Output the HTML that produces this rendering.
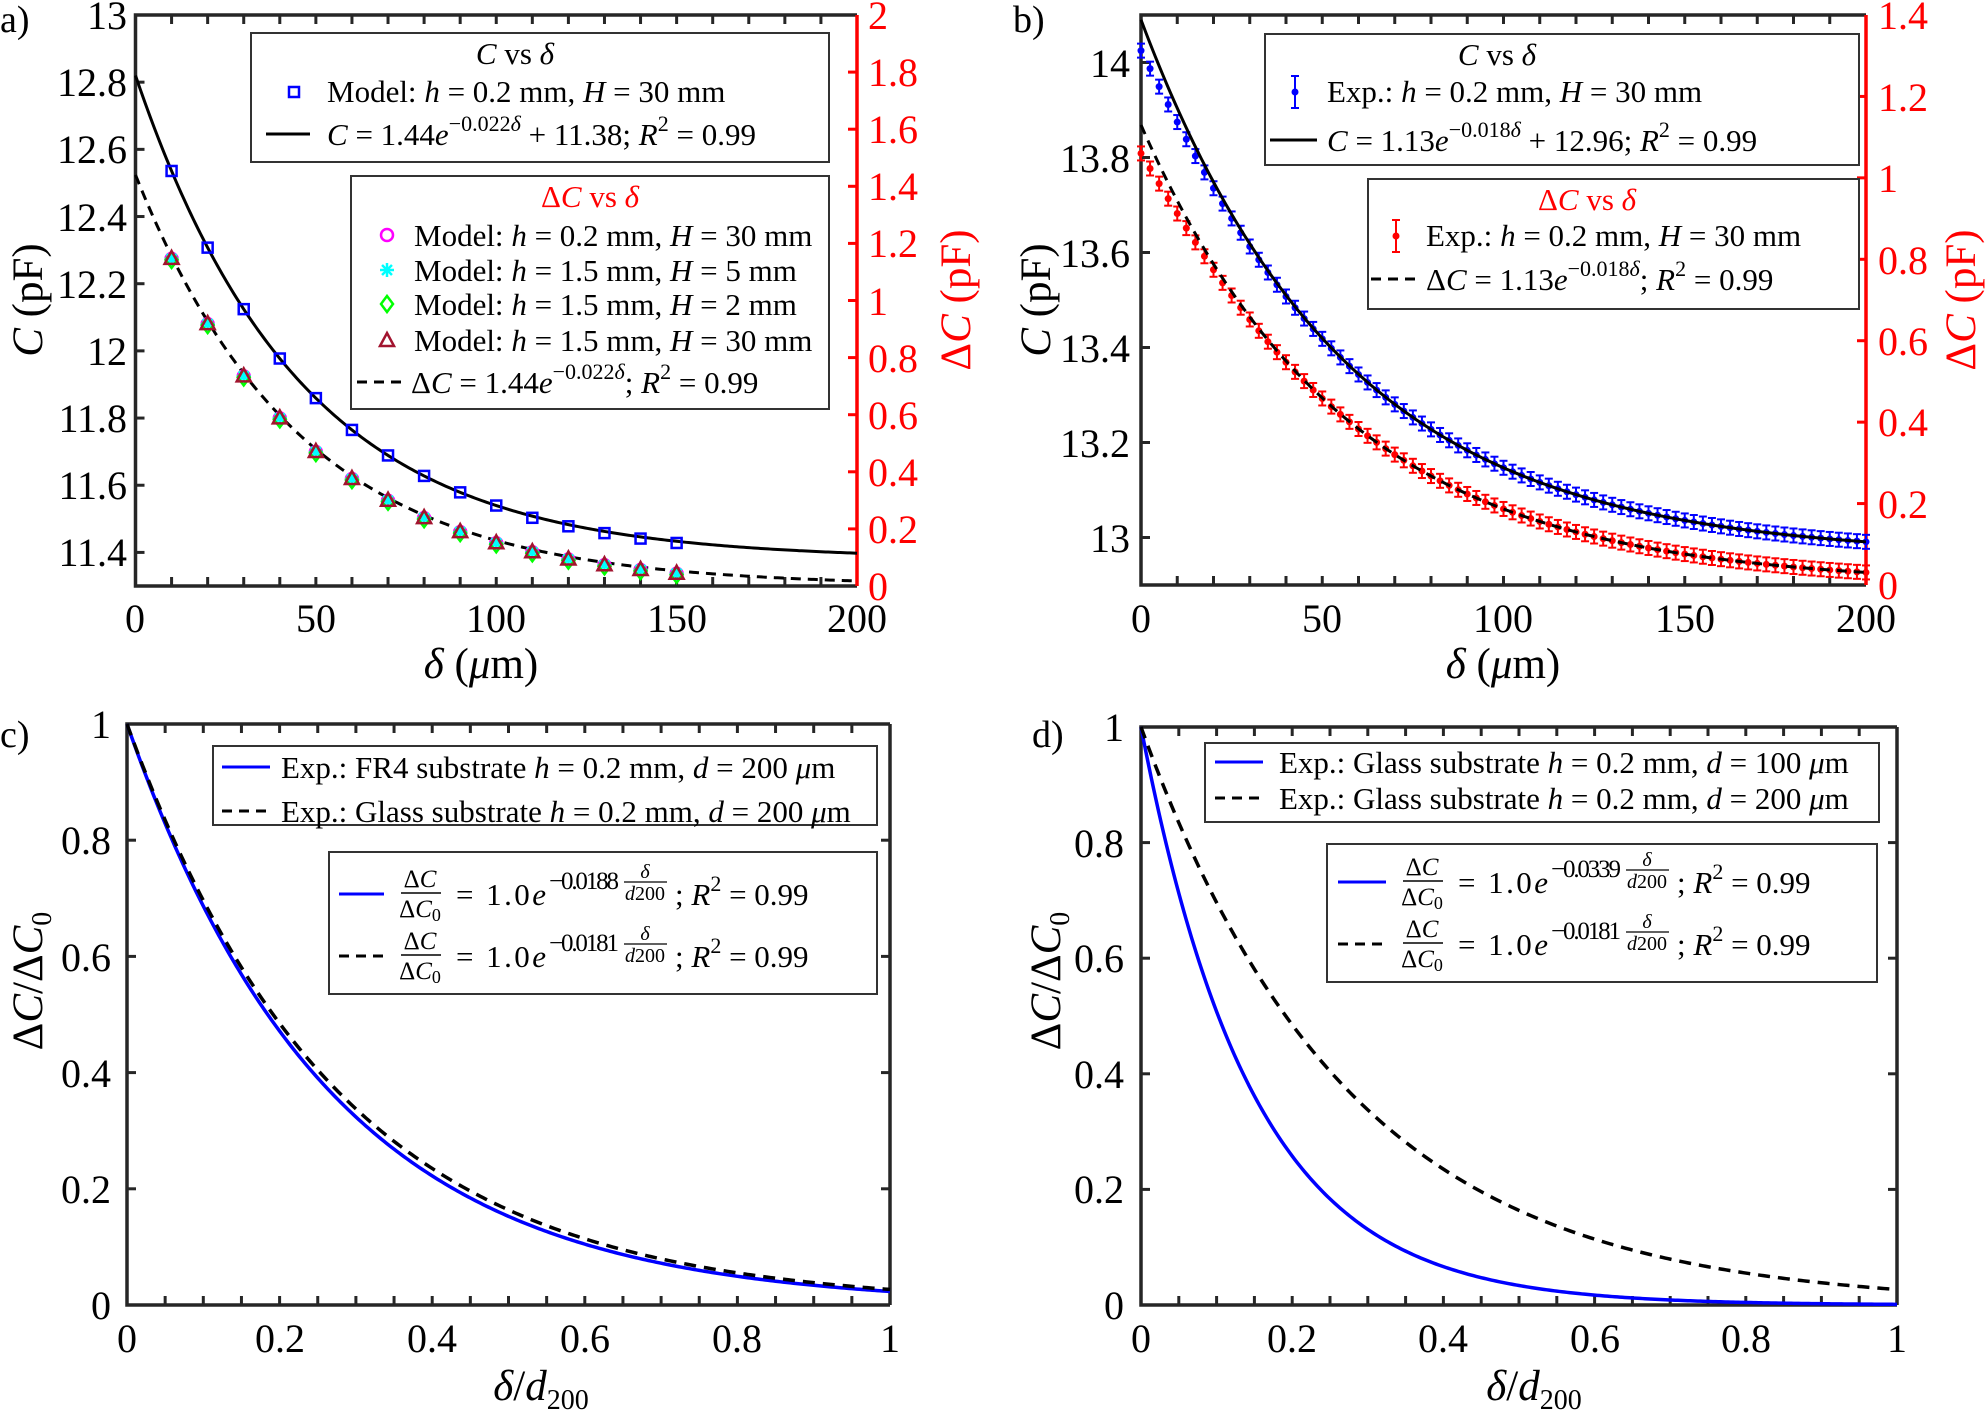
<!DOCTYPE html>
<html><head><meta charset="utf-8"><style>
html,body{margin:0;padding:0;background:#fff;}
svg{display:block;font-family:"Liberation Serif",serif;}
.t{font-size:40px;fill:#000;}
.r{fill:#f00;}
.lg{font-size:31px;}
.al{font-size:43px;}
</style></head><body>
<svg id="s" width="1985" height="1414" viewBox="0 0 1985 1414" xmlns="http://www.w3.org/2000/svg">
<rect width="1985" height="1414" fill="#fff"/>
<g id="g"></g>
<text x="0" y="32" font-size="38">a)</text>
<text x="1013" y="32" font-size="38">b)</text>
<text x="0" y="747" font-size="38">c)</text>
<text x="1032" y="747" font-size="38">d)</text>

<!-- Panel a ticks -->
<g class="t" text-anchor="end" transform="translate(0,3)">
<text x="127" y="563">11.4</text><text x="127" y="496">11.6</text><text x="127" y="429">11.8</text>
<text x="127" y="362">12</text><text x="127" y="295">12.2</text><text x="127" y="228">12.4</text>
<text x="127" y="160">12.6</text><text x="127" y="93">12.8</text><text x="127" y="26">13</text>
</g>
<g class="t r" transform="translate(0,3)">
<text x="868" y="597">0</text><text x="868" y="540">0.2</text><text x="868" y="483">0.4</text>
<text x="868" y="426">0.6</text><text x="868" y="369">0.8</text><text x="868" y="312">1</text>
<text x="868" y="254">1.2</text><text x="868" y="197">1.4</text><text x="868" y="140">1.6</text>
<text x="868" y="83">1.8</text><text x="868" y="26">2</text>
</g>
<g class="t" text-anchor="middle">
<text x="135" y="632">0</text><text x="316" y="632">50</text><text x="496" y="632">100</text>
<text x="677" y="632">150</text><text x="857" y="632">200</text>
</g>
<text class="al" text-anchor="middle" transform="rotate(-90 42 300)" x="42" y="300"><tspan font-style="italic">C</tspan> (pF)</text>
<text class="al r" text-anchor="middle" transform="rotate(-90 970 300)" x="970" y="300">Δ<tspan font-style="italic">C</tspan> (pF)</text>
<text class="al" text-anchor="middle" x="481" y="678"><tspan font-style="italic">δ</tspan> (<tspan font-style="italic">μ</tspan>m)</text>

<!-- Panel b ticks -->
<g class="t" text-anchor="end" transform="translate(0,3)">
<text x="1130" y="549">13</text><text x="1130" y="454">13.2</text><text x="1130" y="359">13.4</text>
<text x="1130" y="264">13.6</text><text x="1130" y="169">13.8</text><text x="1130" y="74">14</text>
</g>
<g class="t r" transform="translate(0,3)">
<text x="1878" y="596">0</text><text x="1878" y="515">0.2</text><text x="1878" y="433">0.4</text>
<text x="1878" y="352">0.6</text><text x="1878" y="271">0.8</text><text x="1878" y="189">1</text>
<text x="1878" y="108">1.2</text><text x="1878" y="26">1.4</text>
</g>
<g class="t" text-anchor="middle">
<text x="1141" y="632">0</text><text x="1322" y="632">50</text><text x="1503" y="632">100</text>
<text x="1685" y="632">150</text><text x="1866" y="632">200</text>
</g>
<text class="al" text-anchor="middle" transform="rotate(-90 1050 300)" x="1050" y="300"><tspan font-style="italic">C</tspan> (pF)</text>
<text class="al r" text-anchor="middle" transform="rotate(-90 1975 300)" x="1975" y="300">Δ<tspan font-style="italic">C</tspan> (pF)</text>
<text class="al" text-anchor="middle" x="1503" y="678"><tspan font-style="italic">δ</tspan> (<tspan font-style="italic">μ</tspan>m)</text>

<!-- Panel c ticks -->
<g class="t" text-anchor="end" transform="translate(0,3)">
<text x="111" y="1316">0</text><text x="111" y="1200">0.2</text><text x="111" y="1084">0.4</text>
<text x="111" y="968">0.6</text><text x="111" y="851">0.8</text><text x="111" y="735">1</text>
</g>
<g class="t" text-anchor="middle">
<text x="127" y="1352">0</text><text x="280" y="1352">0.2</text><text x="432" y="1352">0.4</text>
<text x="585" y="1352">0.6</text><text x="737" y="1352">0.8</text><text x="890" y="1352">1</text>
</g>
<text class="al" text-anchor="middle" transform="rotate(-90 42 981)" x="42" y="981">Δ<tspan font-style="italic">C</tspan>/Δ<tspan font-style="italic">C</tspan><tspan font-size="28" dy="9">0</tspan></text>
<text class="al" text-anchor="middle" x="541" y="1400"><tspan font-style="italic">δ</tspan>/<tspan font-style="italic">d</tspan><tspan font-size="28" dy="9">200</tspan></text>

<!-- Panel d ticks -->
<g class="t" text-anchor="end" transform="translate(0,3)">
<text x="1124" y="1316">0</text><text x="1124" y="1200">0.2</text><text x="1124" y="1085">0.4</text>
<text x="1124" y="969">0.6</text><text x="1124" y="854">0.8</text><text x="1124" y="738">1</text>
</g>
<g class="t" text-anchor="middle">
<text x="1141" y="1352">0</text><text x="1292" y="1352">0.2</text><text x="1443" y="1352">0.4</text>
<text x="1595" y="1352">0.6</text><text x="1746" y="1352">0.8</text><text x="1897" y="1352">1</text>
</g>
<text class="al" text-anchor="middle" transform="rotate(-90 1060 981)" x="1060" y="981">Δ<tspan font-style="italic">C</tspan>/Δ<tspan font-style="italic">C</tspan><tspan font-size="28" dy="9">0</tspan></text>
<text class="al" text-anchor="middle" x="1534" y="1400"><tspan font-style="italic">δ</tspan>/<tspan font-style="italic">d</tspan><tspan font-size="28" dy="9">200</tspan></text>

<!-- Legends panel a -->
<rect x="251" y="33" width="578" height="129" fill="#fff" stroke="#333" stroke-width="2"/>
<text class="lg" x="515" y="64" text-anchor="middle"><tspan font-style="italic">C</tspan> vs <tspan font-style="italic">δ</tspan></text>
<text class="lg" x="327" y="102">Model: <tspan font-style="italic">h</tspan> = 0.2 mm, <tspan font-style="italic">H</tspan> = 30 mm</text>
<line x1="266" y1="134" x2="310" y2="134" stroke="#000" stroke-width="3"/>
<text class="lg" x="327" y="145"><tspan font-style="italic">C</tspan> = 1.44<tspan font-style="italic">e</tspan><tspan font-size="22" dy="-14">−0.022<tspan font-style="italic">δ</tspan></tspan><tspan dy="14"> + 11.38; </tspan><tspan font-style="italic">R</tspan><tspan font-size="22" dy="-14">2</tspan><tspan dy="14"> = 0.99</tspan></text>

<rect x="351" y="176" width="478" height="233" fill="#fff" stroke="#333" stroke-width="2"/>
<text class="lg r" x="590" y="207" text-anchor="middle">Δ<tspan font-style="italic">C</tspan> vs <tspan font-style="italic">δ</tspan></text>
<g class="lg">
<text x="414" y="246">Model: <tspan font-style="italic">h</tspan> = 0.2 mm, <tspan font-style="italic">H</tspan> = 30 mm</text>
<text x="414" y="281">Model: <tspan font-style="italic">h</tspan> = 1.5 mm, <tspan font-style="italic">H</tspan> = 5 mm</text>
<text x="414" y="315">Model: <tspan font-style="italic">h</tspan> = 1.5 mm, <tspan font-style="italic">H</tspan> = 2 mm</text>
<text x="414" y="351">Model: <tspan font-style="italic">h</tspan> = 1.5 mm, <tspan font-style="italic">H</tspan> = 30 mm</text>
<text x="411" y="393">Δ<tspan font-style="italic">C</tspan> = 1.44<tspan font-style="italic">e</tspan><tspan font-size="22" dy="-14">−0.022<tspan font-style="italic">δ</tspan></tspan><tspan dy="14">; </tspan><tspan font-style="italic">R</tspan><tspan font-size="22" dy="-14">2</tspan><tspan dy="14"> = 0.99</tspan></text>
</g>
<line x1="357" y1="382" x2="405" y2="382" stroke="#000" stroke-width="3" stroke-dasharray="10,7"/>
<g id="lgA"></g>

<!-- Legends panel b -->
<rect x="1265" y="34" width="594" height="131" fill="#fff" stroke="#333" stroke-width="2"/>
<text class="lg" x="1497" y="65" text-anchor="middle"><tspan font-style="italic">C</tspan> vs <tspan font-style="italic">δ</tspan></text>
<text class="lg" x="1327" y="102">Exp.: <tspan font-style="italic">h</tspan> = 0.2 mm, <tspan font-style="italic">H</tspan> = 30 mm</text>
<line x1="1270" y1="140" x2="1317" y2="140" stroke="#000" stroke-width="3"/>
<text class="lg" x="1327" y="151"><tspan font-style="italic">C</tspan> = 1.13<tspan font-style="italic">e</tspan><tspan font-size="22" dy="-14">−0.018<tspan font-style="italic">δ</tspan></tspan><tspan dy="14"> + 12.96; </tspan><tspan font-style="italic">R</tspan><tspan font-size="22" dy="-14">2</tspan><tspan dy="14"> = 0.99</tspan></text>
<rect x="1368" y="179" width="491" height="130" fill="#fff" stroke="#333" stroke-width="2"/>
<text class="lg r" x="1587" y="210" text-anchor="middle">Δ<tspan font-style="italic">C</tspan> vs <tspan font-style="italic">δ</tspan></text>
<text class="lg" x="1426" y="246">Exp.: <tspan font-style="italic">h</tspan> = 0.2 mm, <tspan font-style="italic">H</tspan> = 30 mm</text>
<line x1="1371" y1="279" x2="1418" y2="279" stroke="#000" stroke-width="3" stroke-dasharray="10,7"/>
<text class="lg" x="1426" y="290">Δ<tspan font-style="italic">C</tspan> = 1.13<tspan font-style="italic">e</tspan><tspan font-size="22" dy="-14">−0.018<tspan font-style="italic">δ</tspan></tspan><tspan dy="14">; </tspan><tspan font-style="italic">R</tspan><tspan font-size="22" dy="-14">2</tspan><tspan dy="14"> = 0.99</tspan></text>
<g id="lgB"></g>

<!-- Legends panel c -->
<rect x="213" y="746" width="664" height="79" fill="#fff" stroke="#333" stroke-width="2"/>
<line x1="222" y1="767" x2="270" y2="767" stroke="#00f" stroke-width="3"/>
<text class="lg" x="281" y="778">Exp.: FR4 substrate <tspan font-style="italic">h</tspan> = 0.2 mm, <tspan font-style="italic">d</tspan> = 200 <tspan font-style="italic">μ</tspan>m</text>
<line x1="222" y1="811" x2="270" y2="811" stroke="#000" stroke-width="3" stroke-dasharray="10,7"/>
<text class="lg" x="281" y="822">Exp.: Glass substrate <tspan font-style="italic">h</tspan> = 0.2 mm, <tspan font-style="italic">d</tspan> = 200 <tspan font-style="italic">μ</tspan>m</text>
<rect x="329" y="852" width="548" height="142" fill="#fff" stroke="#333" stroke-width="2"/>
<line x1="339" y1="894" x2="384" y2="894" stroke="#00f" stroke-width="3"/>
<line x1="339" y1="956" x2="384" y2="956" stroke="#000" stroke-width="3" stroke-dasharray="10,7"/>

<!-- Legends panel d -->
<rect x="1205" y="743" width="674" height="79" fill="#fff" stroke="#333" stroke-width="2"/>
<line x1="1215" y1="762" x2="1263" y2="762" stroke="#00f" stroke-width="3"/>
<text class="lg" x="1279" y="773">Exp.: Glass substrate <tspan font-style="italic">h</tspan> = 0.2 mm, <tspan font-style="italic">d</tspan> = 100 <tspan font-style="italic">μ</tspan>m</text>
<line x1="1215" y1="798" x2="1263" y2="798" stroke="#000" stroke-width="3" stroke-dasharray="10,7"/>
<text class="lg" x="1279" y="809">Exp.: Glass substrate <tspan font-style="italic">h</tspan> = 0.2 mm, <tspan font-style="italic">d</tspan> = 200 <tspan font-style="italic">μ</tspan>m</text>
<rect x="1327" y="844" width="550" height="138" fill="#fff" stroke="#333" stroke-width="2"/>
<line x1="1338" y1="882" x2="1386" y2="882" stroke="#00f" stroke-width="3"/>
<line x1="1338" y1="944" x2="1386" y2="944" stroke="#000" stroke-width="3" stroke-dasharray="10,7"/>

<!-- fraction formulas c -->
<g class="lg">
<g font-size="25">
<text x="420" y="887" text-anchor="middle">Δ<tspan font-style="italic">C</tspan></text>
<text x="420" y="917" text-anchor="middle">Δ<tspan font-style="italic">C</tspan><tspan font-size="18" dy="4">0</tspan></text>
<text x="420" y="949" text-anchor="middle">Δ<tspan font-style="italic">C</tspan></text>
<text x="420" y="979" text-anchor="middle">Δ<tspan font-style="italic">C</tspan><tspan font-size="18" dy="4">0</tspan></text>
</g>
<line x1="401" y1="893" x2="441" y2="893" stroke="#000" stroke-width="1.5"/>
<line x1="401" y1="955" x2="441" y2="955" stroke="#000" stroke-width="1.5"/>
<text x="456" y="905" textLength="90">= 1.0<tspan font-style="italic">e</tspan></text>
<text x="456" y="967" textLength="90">= 1.0<tspan font-style="italic">e</tspan></text>
<text x="549" y="889" font-size="25" textLength="70">−0.0188</text>
<text x="549" y="951" font-size="25" textLength="70">−0.0181</text>
<g font-size="20" text-anchor="middle">
<text x="645" y="878" font-style="italic">δ</text><text x="645" y="900"><tspan font-style="italic">d</tspan>200</text>
<text x="645" y="940" font-style="italic">δ</text><text x="645" y="962"><tspan font-style="italic">d</tspan>200</text>
</g>
<line x1="624" y1="882" x2="667" y2="882" stroke="#000" stroke-width="1.2"/>
<line x1="624" y1="944" x2="667" y2="944" stroke="#000" stroke-width="1.2"/>
<text x="675" y="905">; <tspan font-style="italic">R</tspan><tspan font-size="22" dy="-14">2</tspan><tspan dy="14"> = 0.99</tspan></text>
<text x="675" y="967">; <tspan font-style="italic">R</tspan><tspan font-size="22" dy="-14">2</tspan><tspan dy="14"> = 0.99</tspan></text>
</g>
<!-- fraction formulas d -->
<g class="lg" transform="translate(1002,-12)">
<g font-size="25">
<text x="420" y="887" text-anchor="middle">Δ<tspan font-style="italic">C</tspan></text>
<text x="420" y="917" text-anchor="middle">Δ<tspan font-style="italic">C</tspan><tspan font-size="18" dy="4">0</tspan></text>
<text x="420" y="949" text-anchor="middle">Δ<tspan font-style="italic">C</tspan></text>
<text x="420" y="979" text-anchor="middle">Δ<tspan font-style="italic">C</tspan><tspan font-size="18" dy="4">0</tspan></text>
</g>
<line x1="401" y1="893" x2="441" y2="893" stroke="#000" stroke-width="1.5"/>
<line x1="401" y1="955" x2="441" y2="955" stroke="#000" stroke-width="1.5"/>
<text x="456" y="905" textLength="90">= 1.0<tspan font-style="italic">e</tspan></text>
<text x="456" y="967" textLength="90">= 1.0<tspan font-style="italic">e</tspan></text>
<text x="549" y="889" font-size="25" textLength="70">−0.0339</text>
<text x="549" y="951" font-size="25" textLength="70">−0.0181</text>
<g font-size="20" text-anchor="middle">
<text x="645" y="878" font-style="italic">δ</text><text x="645" y="900"><tspan font-style="italic">d</tspan>200</text>
<text x="645" y="940" font-style="italic">δ</text><text x="645" y="962"><tspan font-style="italic">d</tspan>200</text>
</g>
<line x1="624" y1="882" x2="667" y2="882" stroke="#000" stroke-width="1.2"/>
<line x1="624" y1="944" x2="667" y2="944" stroke="#000" stroke-width="1.2"/>
<text x="675" y="905">; <tspan font-style="italic">R</tspan><tspan font-size="22" dy="-14">2</tspan><tspan dy="14"> = 0.99</tspan></text>
<text x="675" y="967">; <tspan font-style="italic">R</tspan><tspan font-size="22" dy="-14">2</tspan><tspan dy="14"> = 0.99</tspan></text>
</g>
</svg>
<script>
(function(){
var NS="http://www.w3.org/2000/svg";
var G=document.getElementById('g');
function el(t,a,p){var e=document.createElementNS(NS,t);for(var k in a)e.setAttribute(k,a[k]);(p||G).appendChild(e);return e;}
function curve(f,x0,x1,X,Y,st,w,dash,p){var d="";for(var i=0;i<=300;i++){var x=x0+(x1-x0)*i/300;d+=(i?"L":"M")+X(x).toFixed(2)+","+Y(f(x)).toFixed(2);}
 var a={d:d,fill:"none",stroke:st,"stroke-width":w};if(dash)a["stroke-dasharray"]=dash;el("path",a,p);}
function frame(L,T,R,B,xt,yl,yr,rc){
 var ax="#262626";
 xt.forEach(function(x){el("line",{x1:x,y1:B,x2:x,y2:B-9,stroke:ax,"stroke-width":3});el("line",{x1:x,y1:T,x2:x,y2:T+9,stroke:ax,"stroke-width":3});});
 yl.forEach(function(y){el("line",{x1:L,y1:y,x2:L+9,y2:y,stroke:ax,"stroke-width":3});});
 yr.forEach(function(y){el("line",{x1:R,y1:y,x2:R-9,y2:y,stroke:rc||ax,"stroke-width":3});});
 el("path",{d:"M"+R+","+T+"L"+L+","+T+"L"+L+","+B+"L"+R+","+B,fill:"none",stroke:ax,"stroke-width":3.5});
 el("line",{x1:R,y1:T,x2:R,y2:B,stroke:rc||ax,"stroke-width":3.5});
}
function rng(a,b,s){var r=[];for(var v=a;v<=b+1e-9;v+=s)r.push(v);return r;}
var ax_=function(x){return 135.5+x/200*721.5;},ayC=function(c){return 586-(c-11.3)/1.7*571;},ayD=function(d){return 586-d/2*571;};
frame(135.5,15,857,586,rng(0,200,10).map(ax_),rng(11.4,13,0.2).map(ayC),rng(0,2,0.2).map(ayD),"#f00");
curve(function(x){return 1.44*Math.exp(-0.022*x)+11.38;},0,200,ax_,ayC,"#000",3);
curve(function(x){return 1.44*Math.exp(-0.022*x);},0,200,ax_,ayD,"#000",3,"10,7");
function sq(x,y,p){el("rect",{x:x-5,y:y-5,width:10,height:10,fill:"none",stroke:"#00f","stroke-width":2.5},p);}
function circ(x,y,p){el("circle",{cx:x,cy:y,r:6,fill:"none",stroke:"#f0f","stroke-width":2.5},p);}
function star(x,y,p){for(var k=0;k<4;k++){var a=k*Math.PI/4;el("line",{x1:x-7*Math.cos(a),y1:y-7*Math.sin(a),x2:x+7*Math.cos(a),y2:y+7*Math.sin(a),stroke:"#0ff","stroke-width":2.5},p);}}
function dia(x,y,p){el("path",{d:"M"+x+","+(y-8)+"L"+(x+6)+","+y+"L"+x+","+(y+8)+"L"+(x-6)+","+y+"Z",fill:"none",stroke:"#0f0","stroke-width":2.5},p);}
function tri(x,y,p){el("path",{d:"M"+x+","+(y-8)+"L"+(x+7)+","+(y+5)+"L"+(x-7)+","+(y+5)+"Z",fill:"none",stroke:"#a2142f","stroke-width":2.5},p);}
for(var d=10;d<=150;d+=10){
 var c=1.44*Math.exp(-0.022*d)+11.38+(d>100?-0.005:0);
 sq(ax_(d),ayC(c));
 var dc=1.44*Math.exp(-0.022*d)-0.01;var X=ax_(d),Y=ayD(dc);
 circ(X,Y);star(X,Y);dia(X,Y+1);tri(X,Y);
}
var LA=document.getElementById('lgA');
sq(294,92,LA);circ(387,235,LA);star(387,270,LA);dia(387,304,LA);tri(387,341,LA);
var bx=function(x){return 1141+x/200*725;},byC=function(c){return 585-(c-12.9)/1.2*570;},byD=function(d){return 585-d/1.4*570;};
frame(1141,15,1866,585,rng(0,200,10).map(bx),rng(13,14,0.2).map(byC),rng(0,1.4,0.2).map(byD),"#f00");
function eb(x,y,col,h,p){el("line",{x1:x,y1:y-h,x2:x,y2:y+h,stroke:col,"stroke-width":2},p);el("line",{x1:x-4,y1:y-h,x2:x+4,y2:y-h,stroke:col,"stroke-width":2},p);el("line",{x1:x-4,y1:y+h,x2:x+4,y2:y+h,stroke:col,"stroke-width":2},p);el("circle",{cx:x,cy:y,r:3.5,fill:col},p);}
for(var d=0;d<=200;d+=2.5){
 eb(bx(d),byC(12.96+1.13*Math.exp(-0.018*d)-0.065*Math.exp(-0.08*d)),"#00f",7);
 eb(bx(d),byD(1.13*Math.exp(-0.018*d)-0.07*Math.exp(-0.08*d)),"#f00",7);
}
curve(function(x){return 1.13*Math.exp(-0.018*x)+12.96;},0,200,bx,byC,"#000",3);
curve(function(x){return 1.13*Math.exp(-0.018*x);},0,200,bx,byD,"#000",3,"10,7");
var LB=document.getElementById('lgB');
eb(1295,92,"#00f",16,LB);eb(1396,236,"#f00",16,LB);
var cx=function(t){return 127+t*763;},cy=function(v){return 1305-v*581;};
frame(127,724,890,1305,rng(0,1,0.05).map(cx),rng(0,1,0.2).map(cy),rng(0,1,0.2).map(cy));
curve(function(t){return Math.exp(-3.76*t);},0,1,cx,cy,"#00f",3.5);
curve(function(t){return Math.exp(-3.62*t);},0,1,cx,cy,"#000",3.5,"12,8");
var dx=function(t){return 1141+t*756;},dy=function(v){return 1305-v*578;};
frame(1141,727,1897,1305,rng(0,1,0.05).map(dx),rng(0,1,0.2).map(dy),rng(0,1,0.2).map(dy));
curve(function(t){return Math.exp(-6.78*t);},0,1,dx,dy,"#00f",3.5);
curve(function(t){return Math.exp(-3.62*t);},0,1,dx,dy,"#000",3.5,"12,8");
})();
</script>
</body></html>
